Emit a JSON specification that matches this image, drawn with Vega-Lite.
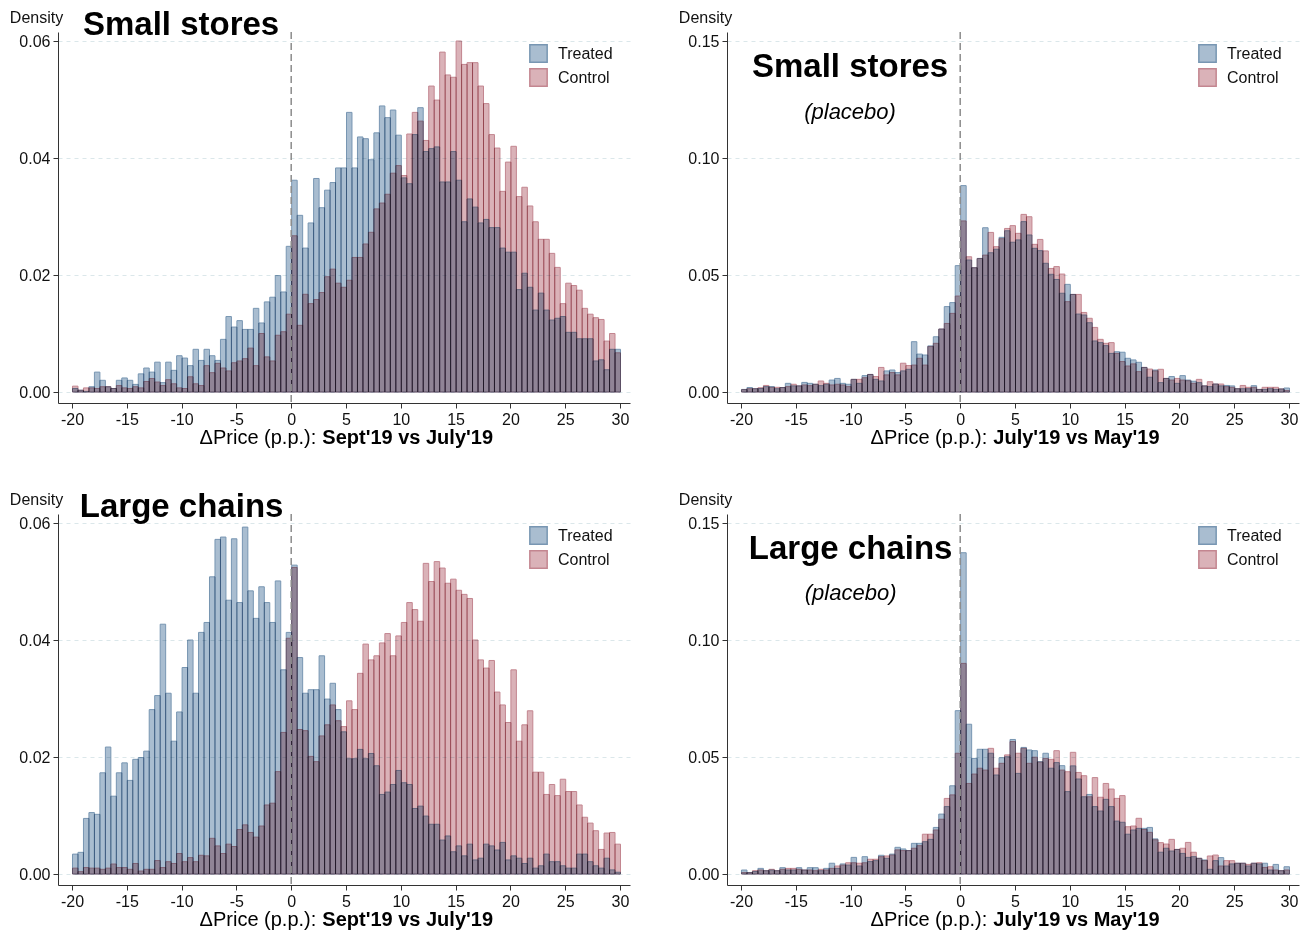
{
"$schema":"https://vega.github.io/schema/vega-lite/v6.json",
"background":"white",
"padding":{"left":9,"top":9,"right":5,"bottom":5},
"config":{
 "font":"Liberation Sans",
 "view":{"stroke":null},
 "axis":{"labelFont":"Liberation Sans","labelFontSize":16,"labelColor":"#111","domainColor":"#333","tickColor":"#333","tickSize":5,"labelPadding":3,"titleFont":"Liberation Sans","titleFontWeight":"normal","titleFontSize":16,"titleColor":"#111"},
 "axisX":{"grid":false},
 "axisY":{"grid":true,"gridDash":[4,4],"gridColor":"#dbe7ea","titleAngle":0,"titleX":-22,"titleY":-15,"titleAlign":"center","titleBaseline":"middle"},
 "legend":{"orient":"none","legendX":471,"legendY":12,"symbolType":"square","symbolSize":300,"labelFont":"Liberation Sans","labelFontSize":16,"labelColor":"#111","labelOffset":10,"rowPadding":-1,"padding":0,"symbolStrokeWidth":1.5},
 "text":{"font":"Liberation Sans","color":"#000"}
},
"datasets":{
"p1":[
{"x":-20,"g":"Control","d":0.001},{"x":-19.5,"g":"Control","d":0.0003},{"x":-19,"g":"Control","d":0.0007},{"x":-18.5,"g":"Control","d":0.0007},{"x":-18,"g":"Control","d":0.0006},{"x":-17.5,"g":"Control","d":0.0009},{"x":-17,"g":"Control","d":0.0009},{"x":-16.5,"g":"Control","d":0.0006},{"x":-16,"g":"Control","d":0.0011},{"x":-15.5,"g":"Control","d":0.0007},
{"x":-15,"g":"Control","d":0.0006},{"x":-14.5,"g":"Control","d":0.0009},{"x":-14,"g":"Control","d":0.0007},{"x":-13.5,"g":"Control","d":0.0018},{"x":-13,"g":"Control","d":0.0023},{"x":-12.5,"g":"Control","d":0.0017},{"x":-12,"g":"Control","d":0.0011},{"x":-11.5,"g":"Control","d":0.0021},{"x":-11,"g":"Control","d":0.0014},{"x":-10.5,"g":"Control","d":0.0007},
{"x":-10,"g":"Control","d":0.0006},{"x":-9.5,"g":"Control","d":0.0026},{"x":-9,"g":"Control","d":0.0014},{"x":-8.5,"g":"Control","d":0.0011},{"x":-8,"g":"Control","d":0.0045},{"x":-7.5,"g":"Control","d":0.0033},{"x":-7,"g":"Control","d":0.0049},{"x":-6.5,"g":"Control","d":0.0041},{"x":-6,"g":"Control","d":0.0036},{"x":-5.5,"g":"Control","d":0.005},
{"x":-5,"g":"Control","d":0.0053},{"x":-4.5,"g":"Control","d":0.0057},{"x":-4,"g":"Control","d":0.0075},{"x":-3.5,"g":"Control","d":0.0045},{"x":-3,"g":"Control","d":0.01},{"x":-2.5,"g":"Control","d":0.006},{"x":-2,"g":"Control","d":0.0053},{"x":-1.5,"g":"Control","d":0.0097},{"x":-1,"g":"Control","d":0.0103},{"x":-0.5,"g":"Control","d":0.0133},
{"x":0,"g":"Control","d":0.0267},{"x":0.5,"g":"Control","d":0.0114},{"x":1,"g":"Control","d":0.0167},{"x":1.5,"g":"Control","d":0.0151},{"x":2,"g":"Control","d":0.0158},{"x":2.5,"g":"Control","d":0.017},{"x":3,"g":"Control","d":0.0197},{"x":3.5,"g":"Control","d":0.021},{"x":4,"g":"Control","d":0.0186},{"x":4.5,"g":"Control","d":0.0179},
{"x":5,"g":"Control","d":0.0191},{"x":5.5,"g":"Control","d":0.023},{"x":6,"g":"Control","d":0.023},{"x":6.5,"g":"Control","d":0.0253},{"x":7,"g":"Control","d":0.0273},{"x":7.5,"g":"Control","d":0.0313},{"x":8,"g":"Control","d":0.0323},{"x":8.5,"g":"Control","d":0.0338},{"x":9,"g":"Control","d":0.0374},{"x":9.5,"g":"Control","d":0.0387},
{"x":10,"g":"Control","d":0.037},{"x":10.5,"g":"Control","d":0.0441},{"x":11,"g":"Control","d":0.0478},{"x":11.5,"g":"Control","d":0.0463},{"x":12,"g":"Control","d":0.043},{"x":12.5,"g":"Control","d":0.0523},{"x":13,"g":"Control","d":0.0499},{"x":13.5,"g":"Control","d":0.0581},{"x":14,"g":"Control","d":0.0542},{"x":14.5,"g":"Control","d":0.0538},
{"x":15,"g":"Control","d":0.06},{"x":15.5,"g":"Control","d":0.056},{"x":16,"g":"Control","d":0.0563},{"x":16.5,"g":"Control","d":0.0563},{"x":17,"g":"Control","d":0.0523},{"x":17.5,"g":"Control","d":0.0493},{"x":18,"g":"Control","d":0.044},{"x":18.5,"g":"Control","d":0.0417},{"x":19,"g":"Control","d":0.0343},{"x":19.5,"g":"Control","d":0.0393},
{"x":20,"g":"Control","d":0.042},{"x":20.5,"g":"Control","d":0.0334},{"x":21,"g":"Control","d":0.035},{"x":21.5,"g":"Control","d":0.0318},{"x":22,"g":"Control","d":0.0291},{"x":22.5,"g":"Control","d":0.0261},{"x":23,"g":"Control","d":0.0261},{"x":23.5,"g":"Control","d":0.0237},{"x":24,"g":"Control","d":0.0213},{"x":24.5,"g":"Control","d":0.0151},
{"x":25,"g":"Control","d":0.0186},{"x":25.5,"g":"Control","d":0.0182},{"x":26,"g":"Control","d":0.0174},{"x":26.5,"g":"Control","d":0.0143},{"x":27,"g":"Control","d":0.0133},{"x":27.5,"g":"Control","d":0.0127},{"x":28,"g":"Control","d":0.0124},{"x":28.5,"g":"Control","d":0.0087},{"x":29,"g":"Control","d":0.01},{"x":29.5,"g":"Control","d":0.0067},
{"x":-20,"g":"Treated","d":0.0006},{"x":-19.5,"g":"Treated","d":0.0003},{"x":-19,"g":"Treated","d":0.0001},{"x":-18.5,"g":"Treated","d":0.0009},{"x":-18,"g":"Treated","d":0.0034},{"x":-17.5,"g":"Treated","d":0.002},{"x":-17,"g":"Treated","d":0.0009},{"x":-16.5,"g":"Treated","d":0.0006},{"x":-16,"g":"Treated","d":0.002},{"x":-15.5,"g":"Treated","d":0.0024},
{"x":-15,"g":"Treated","d":0.002},{"x":-14.5,"g":"Treated","d":0.0013},{"x":-14,"g":"Treated","d":0.0031},{"x":-13.5,"g":"Treated","d":0.0041},{"x":-13,"g":"Treated","d":0.0034},{"x":-12.5,"g":"Treated","d":0.0051},{"x":-12,"g":"Treated","d":0.0016},{"x":-11.5,"g":"Treated","d":0.0051},{"x":-11,"g":"Treated","d":0.0037},{"x":-10.5,"g":"Treated","d":0.0062},
{"x":-10,"g":"Treated","d":0.0058},{"x":-9.5,"g":"Treated","d":0.0045},{"x":-9,"g":"Treated","d":0.0073},{"x":-8.5,"g":"Treated","d":0.0054},{"x":-8,"g":"Treated","d":0.0073},{"x":-7.5,"g":"Treated","d":0.0062},{"x":-7,"g":"Treated","d":0.0054},{"x":-6.5,"g":"Treated","d":0.009},{"x":-6,"g":"Treated","d":0.0129},{"x":-5.5,"g":"Treated","d":0.0111},
{"x":-5,"g":"Treated","d":0.0122},{"x":-4.5,"g":"Treated","d":0.0107},{"x":-4,"g":"Treated","d":0.0107},{"x":-3.5,"g":"Treated","d":0.0143},{"x":-3,"g":"Treated","d":0.0118},{"x":-2.5,"g":"Treated","d":0.0154},{"x":-2,"g":"Treated","d":0.0162},{"x":-1.5,"g":"Treated","d":0.0199},{"x":-1,"g":"Treated","d":0.0171},{"x":-0.5,"g":"Treated","d":0.0249},
{"x":0,"g":"Treated","d":0.0362},{"x":0.5,"g":"Treated","d":0.0302},{"x":1,"g":"Treated","d":0.0246},{"x":1.5,"g":"Treated","d":0.0289},{"x":2,"g":"Treated","d":0.0365},{"x":2.5,"g":"Treated","d":0.0315},{"x":3,"g":"Treated","d":0.0345},{"x":3.5,"g":"Treated","d":0.0358},{"x":4,"g":"Treated","d":0.0383},{"x":4.5,"g":"Treated","d":0.0383},
{"x":5,"g":"Treated","d":0.0478},{"x":5.5,"g":"Treated","d":0.0383},{"x":6,"g":"Treated","d":0.0436},{"x":6.5,"g":"Treated","d":0.0433},{"x":7,"g":"Treated","d":0.0397},{"x":7.5,"g":"Treated","d":0.0443},{"x":8,"g":"Treated","d":0.0489},{"x":8.5,"g":"Treated","d":0.0469},{"x":9,"g":"Treated","d":0.0482},{"x":9.5,"g":"Treated","d":0.0439},
{"x":10,"g":"Treated","d":0.0366},{"x":10.5,"g":"Treated","d":0.0356},{"x":11,"g":"Treated","d":0.044},{"x":11.5,"g":"Treated","d":0.0486},{"x":12,"g":"Treated","d":0.0411},{"x":12.5,"g":"Treated","d":0.0416},{"x":13,"g":"Treated","d":0.0419},{"x":13.5,"g":"Treated","d":0.0359},{"x":14,"g":"Treated","d":0.0359},{"x":14.5,"g":"Treated","d":0.0411},
{"x":15,"g":"Treated","d":0.0362},{"x":15.5,"g":"Treated","d":0.0291},{"x":16,"g":"Treated","d":0.033},{"x":16.5,"g":"Treated","d":0.0316},{"x":17,"g":"Treated","d":0.0289},{"x":17.5,"g":"Treated","d":0.0295},{"x":18,"g":"Treated","d":0.0281},{"x":18.5,"g":"Treated","d":0.0281},{"x":19,"g":"Treated","d":0.0246},{"x":19.5,"g":"Treated","d":0.0239},
{"x":20,"g":"Treated","d":0.0239},{"x":20.5,"g":"Treated","d":0.0175},{"x":21,"g":"Treated","d":0.0203},{"x":21.5,"g":"Treated","d":0.0179},{"x":22,"g":"Treated","d":0.014},{"x":22.5,"g":"Treated","d":0.0169},{"x":23,"g":"Treated","d":0.014},{"x":23.5,"g":"Treated","d":0.0123},{"x":24,"g":"Treated","d":0.0126},{"x":24.5,"g":"Treated","d":0.0129},
{"x":25,"g":"Treated","d":0.0102},{"x":25.5,"g":"Treated","d":0.0102},{"x":26,"g":"Treated","d":0.0091},{"x":26.5,"g":"Treated","d":0.0091},{"x":27,"g":"Treated","d":0.0091},{"x":27.5,"g":"Treated","d":0.0053},{"x":28,"g":"Treated","d":0.0055},{"x":28.5,"g":"Treated","d":0.0038},{"x":29,"g":"Treated","d":0.0073},{"x":29.5,"g":"Treated","d":0.0073}
],
"p2":[
{"x":-20,"g":"Control","d":0.001},{"x":-19.5,"g":"Control","d":0.0014},{"x":-19,"g":"Control","d":0.0014},{"x":-18.5,"g":"Control","d":0.0018},{"x":-18,"g":"Control","d":0.0028},{"x":-17.5,"g":"Control","d":0.002},{"x":-17,"g":"Control","d":0.002},{"x":-16.5,"g":"Control","d":0.0019},{"x":-16,"g":"Control","d":0.0023},{"x":-15.5,"g":"Control","d":0.0033},
{"x":-15,"g":"Control","d":0.0026},{"x":-14.5,"g":"Control","d":0.003},{"x":-14,"g":"Control","d":0.0027},{"x":-13.5,"g":"Control","d":0.0033},{"x":-13,"g":"Control","d":0.0047},{"x":-12.5,"g":"Control","d":0.0037},{"x":-12,"g":"Control","d":0.003},{"x":-11.5,"g":"Control","d":0.0033},{"x":-11,"g":"Control","d":0.003},{"x":-10.5,"g":"Control","d":0.0023},
{"x":-10,"g":"Control","d":0.0054},{"x":-9.5,"g":"Control","d":0.0054},{"x":-9,"g":"Control","d":0.0061},{"x":-8.5,"g":"Control","d":0.0075},{"x":-8,"g":"Control","d":0.0066},{"x":-7.5,"g":"Control","d":0.0105},{"x":-7,"g":"Control","d":0.0073},{"x":-6.5,"g":"Control","d":0.0083},{"x":-6,"g":"Control","d":0.0073},{"x":-5.5,"g":"Control","d":0.0123},
{"x":-5,"g":"Control","d":0.0113},{"x":-4.5,"g":"Control","d":0.0115},{"x":-4,"g":"Control","d":0.0144},{"x":-3.5,"g":"Control","d":0.0115},{"x":-3,"g":"Control","d":0.0194},{"x":-2.5,"g":"Control","d":0.0208},{"x":-2,"g":"Control","d":0.0269},{"x":-1.5,"g":"Control","d":0.0293},{"x":-1,"g":"Control","d":0.0336},{"x":-0.5,"g":"Control","d":0.041},
{"x":0,"g":"Control","d":0.0731},{"x":0.5,"g":"Control","d":0.0578},{"x":1,"g":"Control","d":0.0531},{"x":1.5,"g":"Control","d":0.057},{"x":2,"g":"Control","d":0.0585},{"x":2.5,"g":"Control","d":0.0682},{"x":3,"g":"Control","d":0.0621},{"x":3.5,"g":"Control","d":0.0655},{"x":4,"g":"Control","d":0.0699},{"x":4.5,"g":"Control","d":0.0711},
{"x":5,"g":"Control","d":0.0678},{"x":5.5,"g":"Control","d":0.0759},{"x":6,"g":"Control","d":0.0749},{"x":6.5,"g":"Control","d":0.0631},{"x":7,"g":"Control","d":0.0652},{"x":7.5,"g":"Control","d":0.0603},{"x":8,"g":"Control","d":0.0528},{"x":8.5,"g":"Control","d":0.0536},{"x":9,"g":"Control","d":0.0504},{"x":9.5,"g":"Control","d":0.0386},
{"x":10,"g":"Control","d":0.0417},{"x":10.5,"g":"Control","d":0.0417},{"x":11,"g":"Control","d":0.034},{"x":11.5,"g":"Control","d":0.0315},{"x":12,"g":"Control","d":0.0276},{"x":12.5,"g":"Control","d":0.0225},{"x":13,"g":"Control","d":0.0208},{"x":13.5,"g":"Control","d":0.0211},{"x":14,"g":"Control","d":0.0165},{"x":14.5,"g":"Control","d":0.013},
{"x":15,"g":"Control","d":0.0111},{"x":15.5,"g":"Control","d":0.012},{"x":16,"g":"Control","d":0.0087},{"x":16.5,"g":"Control","d":0.0105},{"x":17,"g":"Control","d":0.0098},{"x":17.5,"g":"Control","d":0.009},{"x":18,"g":"Control","d":0.0097},{"x":18.5,"g":"Control","d":0.0058},{"x":19,"g":"Control","d":0.0051},{"x":19.5,"g":"Control","d":0.0058},
{"x":20,"g":"Control","d":0.0051},{"x":20.5,"g":"Control","d":0.0048},{"x":21,"g":"Control","d":0.0037},{"x":21.5,"g":"Control","d":0.0054},{"x":22,"g":"Control","d":0.0026},{"x":22.5,"g":"Control","d":0.0044},{"x":23,"g":"Control","d":0.0034},{"x":23.5,"g":"Control","d":0.0034},{"x":24,"g":"Control","d":0.0023},{"x":24.5,"g":"Control","d":0.002},
{"x":25,"g":"Control","d":0.0014},{"x":25.5,"g":"Control","d":0.0028},{"x":26,"g":"Control","d":0.002},{"x":26.5,"g":"Control","d":0.002},{"x":27,"g":"Control","d":0.0011},{"x":27.5,"g":"Control","d":0.002},{"x":28,"g":"Control","d":0.002},{"x":28.5,"g":"Control","d":0.002},{"x":29,"g":"Control","d":0.0013},{"x":29.5,"g":"Control","d":0.0006},
{"x":-20,"g":"Treated","d":0.0011},{"x":-19.5,"g":"Treated","d":0.0019},{"x":-19,"g":"Treated","d":0.0014},{"x":-18.5,"g":"Treated","d":0.0015},{"x":-18,"g":"Treated","d":0.0023},{"x":-17.5,"g":"Treated","d":0.0023},{"x":-17,"g":"Treated","d":0.0014},{"x":-16.5,"g":"Treated","d":0.0019},{"x":-16,"g":"Treated","d":0.0037},{"x":-15.5,"g":"Treated","d":0.0026},
{"x":-15,"g":"Treated","d":0.0026},{"x":-14.5,"g":"Treated","d":0.0041},{"x":-14,"g":"Treated","d":0.0037},{"x":-13.5,"g":"Treated","d":0.0033},{"x":-13,"g":"Treated","d":0.0027},{"x":-12.5,"g":"Treated","d":0.0033},{"x":-12,"g":"Treated","d":0.0051},{"x":-11.5,"g":"Treated","d":0.0058},{"x":-11,"g":"Treated","d":0.0037},{"x":-10.5,"g":"Treated","d":0.0033},
{"x":-10,"g":"Treated","d":0.0054},{"x":-9.5,"g":"Treated","d":0.0037},{"x":-9,"g":"Treated","d":0.007},{"x":-8.5,"g":"Treated","d":0.0075},{"x":-8,"g":"Treated","d":0.0054},{"x":-7.5,"g":"Treated","d":0.0047},{"x":-7,"g":"Treated","d":0.009},{"x":-6.5,"g":"Treated","d":0.0094},{"x":-6,"g":"Treated","d":0.0083},{"x":-5.5,"g":"Treated","d":0.009},
{"x":-5,"g":"Treated","d":0.0097},{"x":-4.5,"g":"Treated","d":0.0215},{"x":-4,"g":"Treated","d":0.0162},{"x":-3.5,"g":"Treated","d":0.0158},{"x":-3,"g":"Treated","d":0.0197},{"x":-2.5,"g":"Treated","d":0.0236},{"x":-2,"g":"Treated","d":0.0269},{"x":-1.5,"g":"Treated","d":0.0365},{"x":-1,"g":"Treated","d":0.0382},{"x":-0.5,"g":"Treated","d":0.054},
{"x":0,"g":"Treated","d":0.0882},{"x":0.5,"g":"Treated","d":0.0564},{"x":1,"g":"Treated","d":0.0531},{"x":1.5,"g":"Treated","d":0.0571},{"x":2,"g":"Treated","d":0.0702},{"x":2.5,"g":"Treated","d":0.0595},{"x":3,"g":"Treated","d":0.061},{"x":3.5,"g":"Treated","d":0.0661},{"x":4,"g":"Treated","d":0.0689},{"x":4.5,"g":"Treated","d":0.064},
{"x":5,"g":"Treated","d":0.065},{"x":5.5,"g":"Treated","d":0.0728},{"x":6,"g":"Treated","d":0.0671},{"x":6.5,"g":"Treated","d":0.0614},{"x":7,"g":"Treated","d":0.0604},{"x":7.5,"g":"Treated","d":0.055},{"x":8,"g":"Treated","d":0.0503},{"x":8.5,"g":"Treated","d":0.0481},{"x":9,"g":"Treated","d":0.0422},{"x":9.5,"g":"Treated","d":0.046},
{"x":10,"g":"Treated","d":0.0417},{"x":10.5,"g":"Treated","d":0.0333},{"x":11,"g":"Treated","d":0.0329},{"x":11.5,"g":"Treated","d":0.0296},{"x":12,"g":"Treated","d":0.0218},{"x":12.5,"g":"Treated","d":0.0211},{"x":13,"g":"Treated","d":0.0198},{"x":13.5,"g":"Treated","d":0.0165},{"x":14,"g":"Treated","d":0.0172},{"x":14.5,"g":"Treated","d":0.017},
{"x":15,"g":"Treated","d":0.0144},{"x":15.5,"g":"Treated","d":0.0137},{"x":16,"g":"Treated","d":0.0127},{"x":16.5,"g":"Treated","d":0.0105},{"x":17,"g":"Treated","d":0.0063},{"x":17.5,"g":"Treated","d":0.0094},{"x":18,"g":"Treated","d":0.004},{"x":18.5,"g":"Treated","d":0.0058},{"x":19,"g":"Treated","d":0.0066},{"x":19.5,"g":"Treated","d":0.0037},
{"x":20,"g":"Treated","d":0.007},{"x":20.5,"g":"Treated","d":0.0051},{"x":21,"g":"Treated","d":0.0046},{"x":21.5,"g":"Treated","d":0.004},{"x":22,"g":"Treated","d":0.0026},{"x":22.5,"g":"Treated","d":0.0023},{"x":23,"g":"Treated","d":0.0034},{"x":23.5,"g":"Treated","d":0.0026},{"x":24,"g":"Treated","d":0.0028},{"x":24.5,"g":"Treated","d":0.0026},
{"x":25,"g":"Treated","d":0.0014},{"x":25.5,"g":"Treated","d":0.0014},{"x":26,"g":"Treated","d":0.0014},{"x":26.5,"g":"Treated","d":0.0027},{"x":27,"g":"Treated","d":0.0011},{"x":27.5,"g":"Treated","d":0.0011},{"x":28,"g":"Treated","d":0.0014},{"x":28.5,"g":"Treated","d":0.0011},{"x":29,"g":"Treated","d":0.0013},{"x":29.5,"g":"Treated","d":0.0017}
],
"p3":[
{"x":-20,"g":"Control","d":0.001},{"x":-19.5,"g":"Control","d":0.0004},{"x":-19,"g":"Control","d":0.0011},{"x":-18.5,"g":"Control","d":0.001},{"x":-18,"g":"Control","d":0.001},{"x":-17.5,"g":"Control","d":0.0008},{"x":-17,"g":"Control","d":0.001},{"x":-16.5,"g":"Control","d":0.0017},{"x":-16,"g":"Control","d":0.0011},{"x":-15.5,"g":"Control","d":0.0011},
{"x":-15,"g":"Control","d":0.0008},{"x":-14.5,"g":"Control","d":0.0018},{"x":-14,"g":"Control","d":0.0005},{"x":-13.5,"g":"Control","d":0.0008},{"x":-13,"g":"Control","d":0.0008},{"x":-12.5,"g":"Control","d":0.0023},{"x":-12,"g":"Control","d":0.0011},{"x":-11.5,"g":"Control","d":0.0021},{"x":-11,"g":"Control","d":0.0018},{"x":-10.5,"g":"Control","d":0.0035},
{"x":-10,"g":"Control","d":0.0021},{"x":-9.5,"g":"Control","d":0.0028},{"x":-9,"g":"Control","d":0.0021},{"x":-8.5,"g":"Control","d":0.0032},{"x":-8,"g":"Control","d":0.0031},{"x":-7.5,"g":"Control","d":0.0061},{"x":-7,"g":"Control","d":0.0048},{"x":-6.5,"g":"Control","d":0.0035},{"x":-6,"g":"Control","d":0.0051},{"x":-5.5,"g":"Control","d":0.0047},
{"x":-5,"g":"Control","d":0.0076},{"x":-4.5,"g":"Control","d":0.0084},{"x":-4,"g":"Control","d":0.0071},{"x":-3.5,"g":"Control","d":0.0063},{"x":-3,"g":"Control","d":0.0082},{"x":-2.5,"g":"Control","d":0.0118},{"x":-2,"g":"Control","d":0.0121},{"x":-1.5,"g":"Control","d":0.0175},{"x":-1,"g":"Control","d":0.0242},{"x":-0.5,"g":"Control","d":0.0403},
{"x":0,"g":"Control","d":0.0524},{"x":0.5,"g":"Control","d":0.0247},{"x":1,"g":"Control","d":0.0245},{"x":1.5,"g":"Control","d":0.0201},{"x":2,"g":"Control","d":0.0192},{"x":2.5,"g":"Control","d":0.0236},{"x":3,"g":"Control","d":0.0255},{"x":3.5,"g":"Control","d":0.0289},{"x":4,"g":"Control","d":0.0262},{"x":4.5,"g":"Control","d":0.0252},
{"x":5,"g":"Control","d":0.0296},{"x":5.5,"g":"Control","d":0.0281},{"x":6,"g":"Control","d":0.0343},{"x":6.5,"g":"Control","d":0.0393},{"x":7,"g":"Control","d":0.0366},{"x":7.5,"g":"Control","d":0.0373},{"x":8,"g":"Control","d":0.0395},{"x":8.5,"g":"Control","d":0.0411},{"x":9,"g":"Control","d":0.0373},{"x":9.5,"g":"Control","d":0.0407},
{"x":10,"g":"Control","d":0.043},{"x":10.5,"g":"Control","d":0.0464},{"x":11,"g":"Control","d":0.0452},{"x":11.5,"g":"Control","d":0.0432},{"x":12,"g":"Control","d":0.0531},{"x":12.5,"g":"Control","d":0.05},{"x":13,"g":"Control","d":0.0534},{"x":13.5,"g":"Control","d":0.0523},{"x":14,"g":"Control","d":0.0497},{"x":14.5,"g":"Control","d":0.0504},
{"x":15,"g":"Control","d":0.0485},{"x":15.5,"g":"Control","d":0.0478},{"x":16,"g":"Control","d":0.0471},{"x":16.5,"g":"Control","d":0.04},{"x":17,"g":"Control","d":0.0366},{"x":17.5,"g":"Control","d":0.0352},{"x":18,"g":"Control","d":0.0365},{"x":18.5,"g":"Control","d":0.0311},{"x":19,"g":"Control","d":0.0289},{"x":19.5,"g":"Control","d":0.0259},
{"x":20,"g":"Control","d":0.0349},{"x":20.5,"g":"Control","d":0.0227},{"x":21,"g":"Control","d":0.0255},{"x":21.5,"g":"Control","d":0.0279},{"x":22,"g":"Control","d":0.0174},{"x":22.5,"g":"Control","d":0.0174},{"x":23,"g":"Control","d":0.0136},{"x":23.5,"g":"Control","d":0.0153},{"x":24,"g":"Control","d":0.0134},{"x":24.5,"g":"Control","d":0.0162},
{"x":25,"g":"Control","d":0.0141},{"x":25.5,"g":"Control","d":0.0141},{"x":26,"g":"Control","d":0.0118},{"x":26.5,"g":"Control","d":0.0097},{"x":27,"g":"Control","d":0.0087},{"x":27.5,"g":"Control","d":0.0074},{"x":28,"g":"Control","d":0.0042},{"x":28.5,"g":"Control","d":0.007},{"x":29,"g":"Control","d":0.0071},{"x":29.5,"g":"Control","d":0.0051},
{"x":-20,"g":"Treated","d":0.0034},{"x":-19.5,"g":"Treated","d":0.0037},{"x":-19,"g":"Treated","d":0.0095},{"x":-18.5,"g":"Treated","d":0.0105},{"x":-18,"g":"Treated","d":0.0102},{"x":-17.5,"g":"Treated","d":0.0173},{"x":-17,"g":"Treated","d":0.0217},{"x":-16.5,"g":"Treated","d":0.0133},{"x":-16,"g":"Treated","d":0.0173},{"x":-15.5,"g":"Treated","d":0.019},
{"x":-15,"g":"Treated","d":0.016},{"x":-14.5,"g":"Treated","d":0.0196},{"x":-14,"g":"Treated","d":0.0199},{"x":-13.5,"g":"Treated","d":0.021},{"x":-13,"g":"Treated","d":0.0281},{"x":-12.5,"g":"Treated","d":0.0305},{"x":-12,"g":"Treated","d":0.0427},{"x":-11.5,"g":"Treated","d":0.0309},{"x":-11,"g":"Treated","d":0.0227},{"x":-10.5,"g":"Treated","d":0.0277},
{"x":-10,"g":"Treated","d":0.0353},{"x":-9.5,"g":"Treated","d":0.04},{"x":-9,"g":"Treated","d":0.0309},{"x":-8.5,"g":"Treated","d":0.0413},{"x":-8,"g":"Treated","d":0.043},{"x":-7.5,"g":"Treated","d":0.0508},{"x":-7,"g":"Treated","d":0.0572},{"x":-6.5,"g":"Treated","d":0.0576},{"x":-6,"g":"Treated","d":0.0468},{"x":-5.5,"g":"Treated","d":0.0573},
{"x":-5,"g":"Treated","d":0.0464},{"x":-4.5,"g":"Treated","d":0.0593},{"x":-4,"g":"Treated","d":0.0484},{"x":-3.5,"g":"Treated","d":0.0437},{"x":-3,"g":"Treated","d":0.0491},{"x":-2.5,"g":"Treated","d":0.0464},{"x":-2,"g":"Treated","d":0.043},{"x":-1.5,"g":"Treated","d":0.0501},{"x":-1,"g":"Treated","d":0.0349},{"x":-0.5,"g":"Treated","d":0.0413},
{"x":0,"g":"Treated","d":0.0528},{"x":0.5,"g":"Treated","d":0.037},{"x":1,"g":"Treated","d":0.0309},{"x":1.5,"g":"Treated","d":0.0315},{"x":2,"g":"Treated","d":0.0315},{"x":2.5,"g":"Treated","d":0.0373},{"x":3,"g":"Treated","d":0.0299},{"x":3.5,"g":"Treated","d":0.0326},{"x":4,"g":"Treated","d":0.0281},{"x":4.5,"g":"Treated","d":0.0243},
{"x":5,"g":"Treated","d":0.0197},{"x":5.5,"g":"Treated","d":0.0197},{"x":6,"g":"Treated","d":0.0213},{"x":6.5,"g":"Treated","d":0.0197},{"x":7,"g":"Treated","d":0.0206},{"x":7.5,"g":"Treated","d":0.0185},{"x":8,"g":"Treated","d":0.0136},{"x":8.5,"g":"Treated","d":0.014},{"x":9,"g":"Treated","d":0.0153},{"x":9.5,"g":"Treated","d":0.0177},
{"x":10,"g":"Treated","d":0.0156},{"x":10.5,"g":"Treated","d":0.0153},{"x":11,"g":"Treated","d":0.0112},{"x":11.5,"g":"Treated","d":0.0116},{"x":12,"g":"Treated","d":0.0099},{"x":12.5,"g":"Treated","d":0.0085},{"x":13,"g":"Treated","d":0.0085},{"x":13.5,"g":"Treated","d":0.0058},{"x":14,"g":"Treated","d":0.0065},{"x":14.5,"g":"Treated","d":0.0038},
{"x":15,"g":"Treated","d":0.0048},{"x":15.5,"g":"Treated","d":0.0031},{"x":16,"g":"Treated","d":0.0051},{"x":16.5,"g":"Treated","d":0.0024},{"x":17,"g":"Treated","d":0.0027},{"x":17.5,"g":"Treated","d":0.0051},{"x":18,"g":"Treated","d":0.0048},{"x":18.5,"g":"Treated","d":0.0041},{"x":19,"g":"Treated","d":0.0054},{"x":19.5,"g":"Treated","d":0.0024},
{"x":20,"g":"Treated","d":0.0031},{"x":20.5,"g":"Treated","d":0.0027},{"x":21,"g":"Treated","d":0.0018},{"x":21.5,"g":"Treated","d":0.0027},{"x":22,"g":"Treated","d":0.001},{"x":22.5,"g":"Treated","d":0.0014},{"x":23,"g":"Treated","d":0.0034},{"x":23.5,"g":"Treated","d":0.0021},{"x":24,"g":"Treated","d":0.0021},{"x":24.5,"g":"Treated","d":0.0014},
{"x":25,"g":"Treated","d":0.001},{"x":25.5,"g":"Treated","d":0.001},{"x":26,"g":"Treated","d":0.0034},{"x":26.5,"g":"Treated","d":0.0034},{"x":27,"g":"Treated","d":0.0021},{"x":27.5,"g":"Treated","d":0.0014},{"x":28,"g":"Treated","d":0.001},{"x":28.5,"g":"Treated","d":0.0027},{"x":29,"g":"Treated","d":0.0007},{"x":29.5,"g":"Treated","d":0.0003}
],
"p4":[
{"x":-20,"g":"Control","d":0.0006},{"x":-19.5,"g":"Control","d":0.0006},{"x":-19,"g":"Control","d":0.0014},{"x":-18.5,"g":"Control","d":0.0017},{"x":-18,"g":"Control","d":0.0014},{"x":-17.5,"g":"Control","d":0.002},{"x":-17,"g":"Control","d":0.0014},{"x":-16.5,"g":"Control","d":0.002},{"x":-16,"g":"Control","d":0.0024},{"x":-15.5,"g":"Control","d":0.0024},
{"x":-15,"g":"Control","d":0.002},{"x":-14.5,"g":"Control","d":0.0017},{"x":-14,"g":"Control","d":0.0017},{"x":-13.5,"g":"Control","d":0.0014},{"x":-13,"g":"Control","d":0.002},{"x":-12.5,"g":"Control","d":0.0017},{"x":-12,"g":"Control","d":0.0024},{"x":-11.5,"g":"Control","d":0.0034},{"x":-11,"g":"Control","d":0.0038},{"x":-10.5,"g":"Control","d":0.0048},
{"x":-10,"g":"Control","d":0.0048},{"x":-9.5,"g":"Control","d":0.0046},{"x":-9,"g":"Control","d":0.0048},{"x":-8.5,"g":"Control","d":0.0063},{"x":-8,"g":"Control","d":0.0063},{"x":-7.5,"g":"Control","d":0.0074},{"x":-7,"g":"Control","d":0.0077},{"x":-6.5,"g":"Control","d":0.0081},{"x":-6,"g":"Control","d":0.0103},{"x":-5.5,"g":"Control","d":0.01},
{"x":-5,"g":"Control","d":0.01},{"x":-4.5,"g":"Control","d":0.011},{"x":-4,"g":"Control","d":0.0121},{"x":-3.5,"g":"Control","d":0.017},{"x":-3,"g":"Control","d":0.017},{"x":-2.5,"g":"Control","d":0.0188},{"x":-2,"g":"Control","d":0.0234},{"x":-1.5,"g":"Control","d":0.0323},{"x":-1,"g":"Control","d":0.0338},{"x":-0.5,"g":"Control","d":0.0516},
{"x":0,"g":"Control","d":0.09},{"x":0.5,"g":"Control","d":0.0387},{"x":1,"g":"Control","d":0.0427},{"x":1.5,"g":"Control","d":0.0452},{"x":2,"g":"Control","d":0.0444},{"x":2.5,"g":"Control","d":0.0537},{"x":3,"g":"Control","d":0.0452},{"x":3.5,"g":"Control","d":0.0473},{"x":4,"g":"Control","d":0.0509},{"x":4.5,"g":"Control","d":0.0566},
{"x":5,"g":"Control","d":0.0516},{"x":5.5,"g":"Control","d":0.0537},{"x":6,"g":"Control","d":0.0473},{"x":6.5,"g":"Control","d":0.0499},{"x":7,"g":"Control","d":0.0478},{"x":7.5,"g":"Control","d":0.0494},{"x":8,"g":"Control","d":0.049},{"x":8.5,"g":"Control","d":0.0527},{"x":9,"g":"Control","d":0.0444},{"x":9.5,"g":"Control","d":0.0437},
{"x":10,"g":"Control","d":0.052},{"x":10.5,"g":"Control","d":0.0434},{"x":11,"g":"Control","d":0.042},{"x":11.5,"g":"Control","d":0.033},{"x":12,"g":"Control","d":0.0412},{"x":12.5,"g":"Control","d":0.0328},{"x":13,"g":"Control","d":0.0387},{"x":13.5,"g":"Control","d":0.0363},{"x":14,"g":"Control","d":0.0323},{"x":14.5,"g":"Control","d":0.0335},
{"x":15,"g":"Control","d":0.0202},{"x":15.5,"g":"Control","d":0.0205},{"x":16,"g":"Control","d":0.0238},{"x":16.5,"g":"Control","d":0.019},{"x":17,"g":"Control","d":0.0178},{"x":17.5,"g":"Control","d":0.0146},{"x":18,"g":"Control","d":0.0134},{"x":18.5,"g":"Control","d":0.0128},{"x":19,"g":"Control","d":0.0148},{"x":19.5,"g":"Control","d":0.0105},
{"x":20,"g":"Control","d":0.011},{"x":20.5,"g":"Control","d":0.0135},{"x":21,"g":"Control","d":0.0093},{"x":21.5,"g":"Control","d":0.0067},{"x":22,"g":"Control","d":0.0057},{"x":22.5,"g":"Control","d":0.0077},{"x":23,"g":"Control","d":0.0081},{"x":23.5,"g":"Control","d":0.0034},{"x":24,"g":"Control","d":0.0057},{"x":24.5,"g":"Control","d":0.0057},
{"x":25,"g":"Control","d":0.0046},{"x":25.5,"g":"Control","d":0.0046},{"x":26,"g":"Control","d":0.0041},{"x":26.5,"g":"Control","d":0.0046},{"x":27,"g":"Control","d":0.0048},{"x":27.5,"g":"Control","d":0.0028},{"x":28,"g":"Control","d":0.0031},{"x":28.5,"g":"Control","d":0.0017},{"x":29,"g":"Control","d":0.0014},{"x":29.5,"g":"Control","d":0.0017},
{"x":-20,"g":"Treated","d":0.0017},{"x":-19.5,"g":"Treated","d":0.0006},{"x":-19,"g":"Treated","d":0.0011},{"x":-18.5,"g":"Treated","d":0.0024},{"x":-18,"g":"Treated","d":0.0014},{"x":-17.5,"g":"Treated","d":0.0017},{"x":-17,"g":"Treated","d":0.0014},{"x":-16.5,"g":"Treated","d":0.0027},{"x":-16,"g":"Treated","d":0.0017},{"x":-15.5,"g":"Treated","d":0.0017},
{"x":-15,"g":"Treated","d":0.0027},{"x":-14.5,"g":"Treated","d":0.0017},{"x":-14,"g":"Treated","d":0.0027},{"x":-13.5,"g":"Treated","d":0.0027},{"x":-13,"g":"Treated","d":0.0014},{"x":-12.5,"g":"Treated","d":0.0024},{"x":-12,"g":"Treated","d":0.0046},{"x":-11.5,"g":"Treated","d":0.0024},{"x":-11,"g":"Treated","d":0.0043},{"x":-10.5,"g":"Treated","d":0.0038},
{"x":-10,"g":"Treated","d":0.0071},{"x":-9.5,"g":"Treated","d":0.0034},{"x":-9,"g":"Treated","d":0.0074},{"x":-8.5,"g":"Treated","d":0.0053},{"x":-8,"g":"Treated","d":0.0057},{"x":-7.5,"g":"Treated","d":0.008},{"x":-7,"g":"Treated","d":0.0067},{"x":-6.5,"g":"Treated","d":0.0085},{"x":-6,"g":"Treated","d":0.0114},{"x":-5.5,"g":"Treated","d":0.0107},
{"x":-5,"g":"Treated","d":0.01},{"x":-4.5,"g":"Treated","d":0.0131},{"x":-4,"g":"Treated","d":0.0131},{"x":-3.5,"g":"Treated","d":0.0138},{"x":-3,"g":"Treated","d":0.0148},{"x":-2.5,"g":"Treated","d":0.0199},{"x":-2,"g":"Treated","d":0.0256},{"x":-1.5,"g":"Treated","d":0.0288},{"x":-1,"g":"Treated","d":0.0377},{"x":-0.5,"g":"Treated","d":0.0698},
{"x":0,"g":"Treated","d":0.1373},{"x":0.5,"g":"Treated","d":0.064},{"x":1,"g":"Treated","d":0.0494},{"x":1.5,"g":"Treated","d":0.0533},{"x":2,"g":"Treated","d":0.0533},{"x":2.5,"g":"Treated","d":0.0516},{"x":3,"g":"Treated","d":0.0423},{"x":3.5,"g":"Treated","d":0.0497},{"x":4,"g":"Treated","d":0.0501},{"x":4.5,"g":"Treated","d":0.0575},
{"x":5,"g":"Treated","d":0.043},{"x":5.5,"g":"Treated","d":0.0541},{"x":6,"g":"Treated","d":0.053},{"x":6.5,"g":"Treated","d":0.0527},{"x":7,"g":"Treated","d":0.048},{"x":7.5,"g":"Treated","d":0.0516},{"x":8,"g":"Treated","d":0.0452},{"x":8.5,"g":"Treated","d":0.0476},{"x":9,"g":"Treated","d":0.0463},{"x":9.5,"g":"Treated","d":0.0352},
{"x":10,"g":"Treated","d":0.0462},{"x":10.5,"g":"Treated","d":0.0406},{"x":11,"g":"Treated","d":0.033},{"x":11.5,"g":"Treated","d":0.034},{"x":12,"g":"Treated","d":0.0288},{"x":12.5,"g":"Treated","d":0.0269},{"x":13,"g":"Treated","d":0.0319},{"x":13.5,"g":"Treated","d":0.0288},{"x":14,"g":"Treated","d":0.0226},{"x":14.5,"g":"Treated","d":0.0221},
{"x":15,"g":"Treated","d":0.017},{"x":15.5,"g":"Treated","d":0.0188},{"x":16,"g":"Treated","d":0.0195},{"x":16.5,"g":"Treated","d":0.0195},{"x":17,"g":"Treated","d":0.0199},{"x":17.5,"g":"Treated","d":0.015},{"x":18,"g":"Treated","d":0.0093},{"x":18.5,"g":"Treated","d":0.011},{"x":19,"g":"Treated","d":0.0098},{"x":19.5,"g":"Treated","d":0.0105},
{"x":20,"g":"Treated","d":0.0088},{"x":20.5,"g":"Treated","d":0.0071},{"x":21,"g":"Treated","d":0.0074},{"x":21.5,"g":"Treated","d":0.0067},{"x":22,"g":"Treated","d":0.006},{"x":22.5,"g":"Treated","d":0.002},{"x":23,"g":"Treated","d":0.0057},{"x":23.5,"g":"Treated","d":0.007},{"x":24,"g":"Treated","d":0.0034},{"x":24.5,"g":"Treated","d":0.0043},
{"x":25,"g":"Treated","d":0.0046},{"x":25.5,"g":"Treated","d":0.0046},{"x":26,"g":"Treated","d":0.0034},{"x":26.5,"g":"Treated","d":0.0046},{"x":27,"g":"Treated","d":0.0043},{"x":27.5,"g":"Treated","d":0.0046},{"x":28,"g":"Treated","d":0.0017},{"x":28.5,"g":"Treated","d":0.0041},{"x":29,"g":"Treated","d":0.0014},{"x":29.5,"g":"Treated","d":0.0031}
]
},
"columns":2,
"spacing":{"row":43,"column":48},
"resolve":{"scale":{"x":"independent","y":"independent","fill":"independent","stroke":"independent"},"legend":{"fill":"independent","stroke":"independent"}},
"concat":[
{"width":572,"height":371,"layer":[
 {"data":{"name":"p1"},"mark":{"type":"bar","binSpacing":0,"strokeWidth":1,"blend":"multiply"},
  "encoding":{
   "x":{"field":"x","type":"quantitative","bin":{"binned":true,"step":0.5},"scale":{"domain":[-21.277,30.912],"nice":false,"zero":false},"axis":{"values":[-20,-15,-10,-5,0,5,10,15,20,25,30],"labelExpr":"datum.value + ''","title":null}},
   "y":{"field":"d","type":"quantitative","stack":null,"scale":{"domain":[-0.00188,0.06154],"nice":false,"zero":false},"axis":{"values":[0,0.02,0.04,0.06],"format":".2f","title":"Density"}},
   "y2":{"datum":0},
   "fill":{"field":"g","type":"nominal","title":null,"scale":{"domain":["Treated","Control"],"range":["#a9bdd0","#dab2b8"]}},
   "stroke":{"field":"g","type":"nominal","title":null,"scale":{"domain":["Treated","Control"],"range":["#7896b2","#c38690"]}}
  }},
 {"data":{"values":[{}]},"mark":{"type":"rule","color":"#8c8c8c","strokeDash":[7,4],"strokeWidth":1.5},"encoding":{"x":{"datum":0}}},
 {"data":{"values":[{}]},"mark":{"type":"text","text":"Small stores","fontSize":33,"fontWeight":"bold","align":"center","baseline":"middle","dy":1},"encoding":{"x":{"datum":-10.05},"y":{"datum":0.0629}}},
 {"data":{"values":[{}]},"mark":{"type":"text","text":"ΔPrice (p.p.):","fontSize":20,"align":"right","baseline":"middle","dx":-4},"encoding":{"x":{"datum":2.655},"y":{"datum":-0.00786}}},
 {"data":{"values":[{}]},"mark":{"type":"text","text":"Sept'19 vs July'19","fontSize":20,"fontWeight":"bold","align":"left","baseline":"middle","dx":2},"encoding":{"x":{"datum":2.655},"y":{"datum":-0.00786}}}
]},
{"width":572,"height":371,"layer":[
 {"data":{"name":"p2"},"mark":{"type":"bar","binSpacing":0,"strokeWidth":1,"blend":"multiply"},
  "encoding":{
   "x":{"field":"x","type":"quantitative","bin":{"binned":true,"step":0.5},"scale":{"domain":[-21.277,30.912],"nice":false,"zero":false},"axis":{"values":[-20,-15,-10,-5,0,5,10,15,20,25,30],"labelExpr":"datum.value + ''","title":null}},
   "y":{"field":"d","type":"quantitative","stack":null,"scale":{"domain":[-0.0047,0.15385],"nice":false,"zero":false},"axis":{"values":[0,0.05,0.1,0.15],"format":".2f","title":"Density"}},
   "y2":{"datum":0},
   "fill":{"field":"g","type":"nominal","title":null,"scale":{"domain":["Treated","Control"],"range":["#a9bdd0","#dab2b8"]}},
   "stroke":{"field":"g","type":"nominal","title":null,"scale":{"domain":["Treated","Control"],"range":["#7896b2","#c38690"]}}
  }},
 {"data":{"values":[{}]},"mark":{"type":"rule","color":"#8c8c8c","strokeDash":[7,4],"strokeWidth":1.5},"encoding":{"x":{"datum":0}}},
 {"data":{"values":[{}]},"mark":{"type":"text","text":"Small stores","fontSize":33,"fontWeight":"bold","align":"center","baseline":"middle","dy":1},"encoding":{"x":{"datum":-10.05},"y":{"datum":0.1393}}},
 {"data":{"values":[{}]},"mark":{"type":"text","text":"(placebo)","fontSize":22,"fontStyle":"italic","align":"center","baseline":"middle"},"encoding":{"x":{"datum":-10.05},"y":{"datum":0.1197}}},
 {"data":{"values":[{}]},"mark":{"type":"text","text":"ΔPrice (p.p.):","fontSize":20,"align":"right","baseline":"middle","dx":-4},"encoding":{"x":{"datum":2.838},"y":{"datum":-0.01965}}},
 {"data":{"values":[{}]},"mark":{"type":"text","text":"July'19 vs May'19","fontSize":20,"fontWeight":"bold","align":"left","baseline":"middle","dx":2},"encoding":{"x":{"datum":2.838},"y":{"datum":-0.01965}}}
]},
{"width":572,"height":371,"layer":[
 {"data":{"name":"p3"},"mark":{"type":"bar","binSpacing":0,"strokeWidth":1,"blend":"multiply"},
  "encoding":{
   "x":{"field":"x","type":"quantitative","bin":{"binned":true,"step":0.5},"scale":{"domain":[-21.277,30.912],"nice":false,"zero":false},"axis":{"values":[-20,-15,-10,-5,0,5,10,15,20,25,30],"labelExpr":"datum.value + ''","title":null}},
   "y":{"field":"d","type":"quantitative","stack":null,"scale":{"domain":[-0.00188,0.06154],"nice":false,"zero":false},"axis":{"values":[0,0.02,0.04,0.06],"format":".2f","title":"Density"}},
   "y2":{"datum":0},
   "fill":{"field":"g","type":"nominal","title":null,"scale":{"domain":["Treated","Control"],"range":["#a9bdd0","#dab2b8"]}},
   "stroke":{"field":"g","type":"nominal","title":null,"scale":{"domain":["Treated","Control"],"range":["#7896b2","#c38690"]}}
  }},
 {"data":{"values":[{}]},"mark":{"type":"rule","color":"#8c8c8c","strokeDash":[7,4],"strokeWidth":1.5},"encoding":{"x":{"datum":0}}},
 {"data":{"values":[{}]},"mark":{"type":"text","text":"Large chains","fontSize":33,"fontWeight":"bold","align":"center","baseline":"middle","dy":1},"encoding":{"x":{"datum":-10.0},"y":{"datum":0.0629}}},
 {"data":{"values":[{}]},"mark":{"type":"text","text":"ΔPrice (p.p.):","fontSize":20,"align":"right","baseline":"middle","dx":-4},"encoding":{"x":{"datum":2.655},"y":{"datum":-0.00786}}},
 {"data":{"values":[{}]},"mark":{"type":"text","text":"Sept'19 vs July'19","fontSize":20,"fontWeight":"bold","align":"left","baseline":"middle","dx":2},"encoding":{"x":{"datum":2.655},"y":{"datum":-0.00786}}}
]},
{"width":572,"height":371,"layer":[
 {"data":{"name":"p4"},"mark":{"type":"bar","binSpacing":0,"strokeWidth":1,"blend":"multiply"},
  "encoding":{
   "x":{"field":"x","type":"quantitative","bin":{"binned":true,"step":0.5},"scale":{"domain":[-21.277,30.912],"nice":false,"zero":false},"axis":{"values":[-20,-15,-10,-5,0,5,10,15,20,25,30],"labelExpr":"datum.value + ''","title":null}},
   "y":{"field":"d","type":"quantitative","stack":null,"scale":{"domain":[-0.0047,0.15385],"nice":false,"zero":false},"axis":{"values":[0,0.05,0.1,0.15],"format":".2f","title":"Density"}},
   "y2":{"datum":0},
   "fill":{"field":"g","type":"nominal","title":null,"scale":{"domain":["Treated","Control"],"range":["#a9bdd0","#dab2b8"]}},
   "stroke":{"field":"g","type":"nominal","title":null,"scale":{"domain":["Treated","Control"],"range":["#7896b2","#c38690"]}}
  }},
 {"data":{"values":[{}]},"mark":{"type":"rule","color":"#8c8c8c","strokeDash":[7,4],"strokeWidth":1.5},"encoding":{"x":{"datum":0}}},
 {"data":{"values":[{}]},"mark":{"type":"text","text":"Large chains","fontSize":33,"fontWeight":"bold","align":"center","baseline":"middle","dy":1},"encoding":{"x":{"datum":-10.0},"y":{"datum":0.1393}}},
 {"data":{"values":[{}]},"mark":{"type":"text","text":"(placebo)","fontSize":22,"fontStyle":"italic","align":"center","baseline":"middle"},"encoding":{"x":{"datum":-10.0},"y":{"datum":0.1201}}},
 {"data":{"values":[{}]},"mark":{"type":"text","text":"ΔPrice (p.p.):","fontSize":20,"align":"right","baseline":"middle","dx":-4},"encoding":{"x":{"datum":2.838},"y":{"datum":-0.01965}}},
 {"data":{"values":[{}]},"mark":{"type":"text","text":"July'19 vs May'19","fontSize":20,"fontWeight":"bold","align":"left","baseline":"middle","dx":2},"encoding":{"x":{"datum":2.838},"y":{"datum":-0.01965}}}
]}
]
}
